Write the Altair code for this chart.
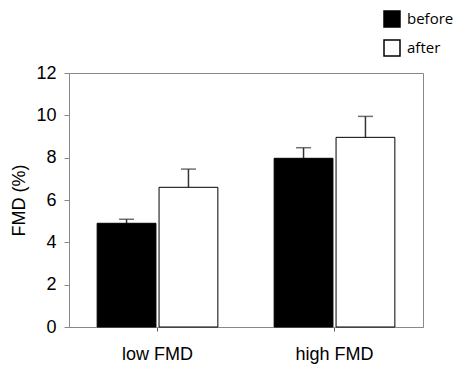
import altair as alt
import pandas as pd

groups = ["low FMD", "low FMD", "high FMD", "high FMD"]
conditions = ["before", "after", "before", "after"]
means = [4.9, 6.6, 7.97, 8.96]
errors = [0.19, 0.86, 0.5, 0.99]

df = pd.DataFrame({"group": groups, "cond": conditions, "mean": means, "err": errors})
df["top"] = df["mean"] + df["err"]

cat_order = ["low FMD", "high FMD"]
cond_order = ["before", "after"]

x = alt.X("group:N", sort=cat_order, title=None,
          scale=alt.Scale(paddingInner=0.318, paddingOuter=0.159),
          axis=alt.Axis(labelAngle=0, labelAlign="center", labelBaseline="top",
                        labelFont="Liberation Sans", labelFontSize=18,
                        labelColor="black", labelPadding=14, tickSize=4,
                        domainColor="#888888", tickColor="#555555"))
xo = alt.XOffset("cond:N", sort=cond_order, scale=alt.Scale(paddingInner=0.05))

yaxis = alt.Axis(values=[0, 2, 4, 6, 8, 10, 12], grid=False,
                 labelFont="Liberation Sans", labelFontSize=18, labelColor="black",
                 titleFont="Liberation Sans", titleFontSize=18, titleFontWeight="normal",
                 titleColor="black", titlePadding=7, tickSize=5, labelPadding=8,
                 domainColor="#888888", tickColor="#888888")
yscale = alt.Scale(domain=[0, 12])

base = alt.Chart(df)

bars = base.mark_bar(stroke="black", strokeWidth=1).encode(
    x=x, xOffset=xo,
    y=alt.Y("mean:Q", title="FMD (%)", scale=yscale, axis=yaxis),
    fill=alt.Fill("cond:N", sort=cond_order,
                  scale=alt.Scale(domain=cond_order, range=["black", "white"]),
                  legend=alt.Legend(title=None, orient="none", legendX=314, legendY=-63,
                                    symbolType="square", symbolSize=256,
                                    symbolStrokeColor="black", symbolStrokeWidth=1.5,
                                    labelFont="Open Sans", labelFontSize=15, labelColor="black",
                                    rowPadding=7, labelOffset=6)),
)

err_rule = base.mark_rule(color="#333333", strokeWidth=1.5).encode(
    x=x, xOffset=xo,
    y=alt.Y("mean:Q", title="FMD (%)", scale=yscale, axis=yaxis), y2="top:Q")

caps = base.mark_tick(color="#333333", orient="horizontal", size=15, thickness=1.5).encode(
    x=x, xOffset=xo, y=alt.Y("top:Q", title="FMD (%)", scale=yscale, axis=yaxis))

chart = alt.layer(err_rule, bars, caps).properties(
    width=354, height=254,
    autosize=alt.AutoSizeParams(type="none"),
    padding={"left": 61, "top": 65, "right": 37, "bottom": 40},
).configure_view(stroke="#888888", strokeWidth=1)

chart.save("out.html", embed_options={"renderer": "svg", "actions": False})
